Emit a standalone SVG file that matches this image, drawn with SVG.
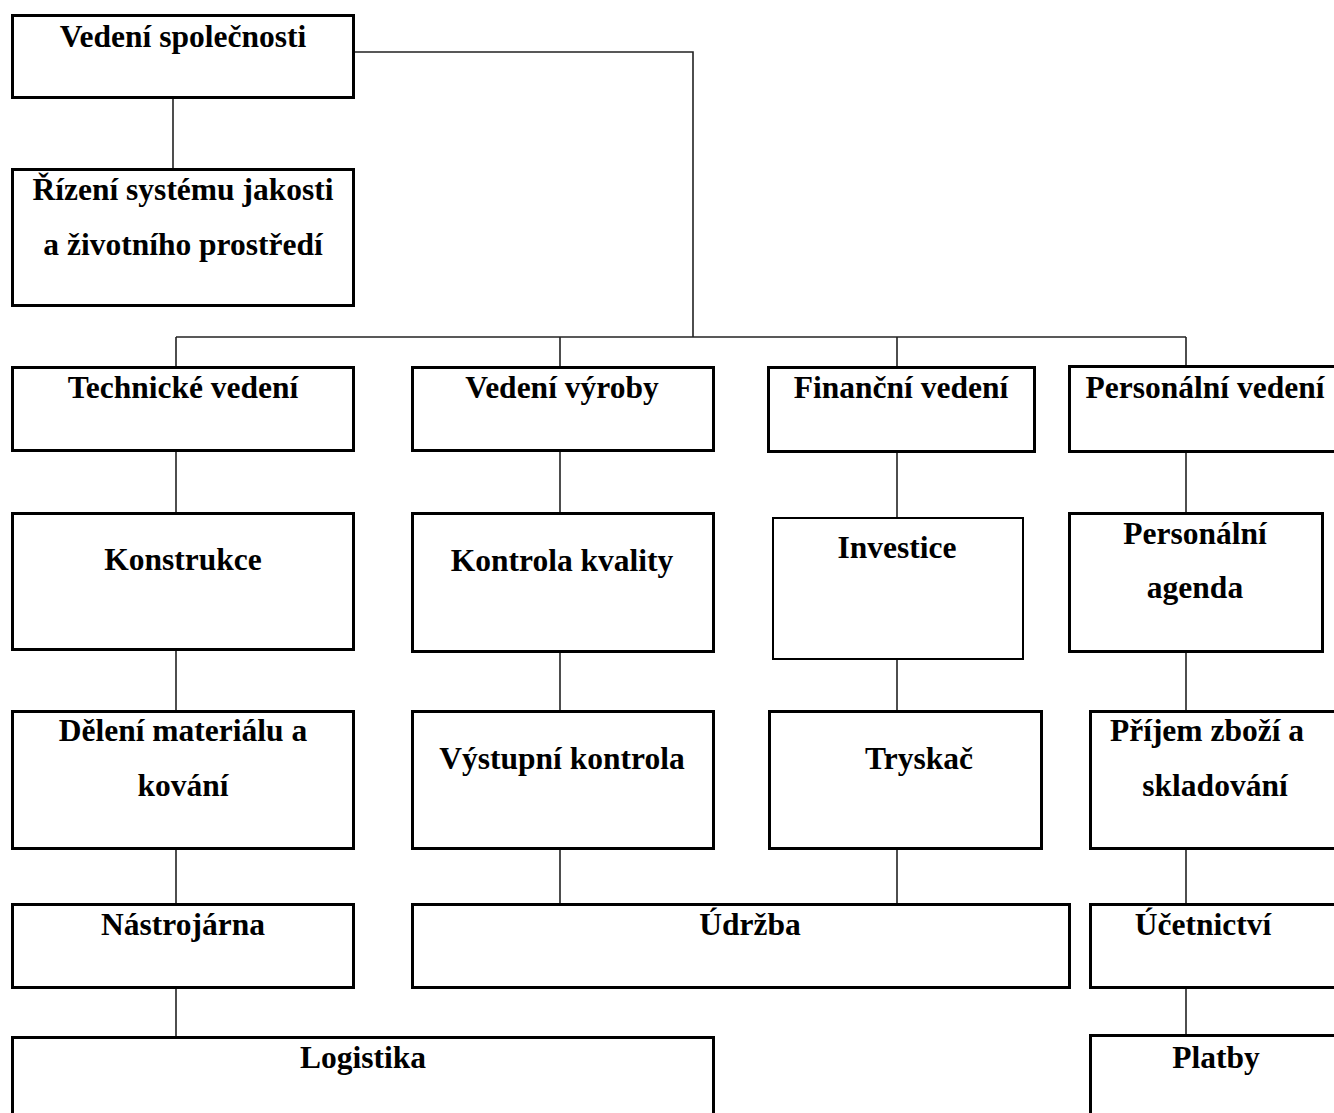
<svg xmlns="http://www.w3.org/2000/svg" width="1334" height="1113" viewBox="0 0 1334 1113">
<style>
.b{fill:#fff;stroke:#000;stroke-width:3}
.thin{stroke-width:2}
.c{fill:none;stroke:#222;stroke-width:1.6}
text{font-family:"Liberation Serif","Times New Roman",serif;font-weight:bold;font-size:31.5px;fill:#000;text-anchor:middle}
</style>
<rect width="1334" height="1113" fill="#fff"/>
<g id="connectors">
<path class="c" d="M173 98V168"/>
<path class="c" d="M354 52H693V337"/>
<path class="c" d="M176 337H1186"/>
<path class="c" d="M176 337V367M560 337V367M897 337V367M1186 337V366"/>
<path class="c" d="M176 451V512M176 650V710M176 849V903M176 988V1038"/>
<path class="c" d="M560 451V512M560 652V710M560 849V903"/>
<path class="c" d="M897 452V517M897 659V710M897 849V903"/>
<path class="c" d="M1186 452V512M1186 652V710M1186 849V903M1186 988V1036"/>
</g>
<g id="n1"><rect class="b" x="12.5" y="15.5" width="341" height="82"/><text x="183" y="47">Vedení společnosti</text></g>
<g id="n2"><rect class="b" x="12.5" y="169.5" width="341" height="136"/><text x="183" y="200">Řízení systému jakosti</text><text x="183" y="255">a životního prostředí</text></g>
<g id="n3"><rect class="b" x="12.5" y="367.5" width="341" height="83"/><text x="183" y="398">Technické vedení</text></g>
<g id="n4"><rect class="b" x="412.5" y="367.5" width="301" height="83"/><text x="562" y="398">Vedení výroby</text></g>
<g id="n5"><rect class="b" x="768.5" y="367.5" width="266" height="84"/><text x="901" y="398">Finanční vedení</text></g>
<g id="n6"><rect class="b" x="1069.5" y="366.5" width="280" height="85"/><text x="1205" y="398">Personální vedení</text></g>
<g id="n7"><rect class="b" x="12.5" y="513.5" width="341" height="136"/><text x="183" y="570">Konstrukce</text></g>
<g id="n8"><rect class="b" x="412.5" y="513.5" width="301" height="138"/><text x="562" y="571">Kontrola kvality</text></g>
<g id="n9"><rect class="b thin" x="773" y="518" width="250" height="141"/><text x="897" y="558">Investice</text></g>
<g id="n10"><rect class="b" x="1069.5" y="513.5" width="253" height="138"/><text x="1195" y="544">Personální</text><text x="1195" y="598">agenda</text></g>
<g id="n11"><rect class="b" x="12.5" y="711.5" width="341" height="137"/><text x="183" y="741">Dělení materiálu a</text><text x="183" y="796">kování</text></g>
<g id="n12"><rect class="b" x="412.5" y="711.5" width="301" height="137"/><text x="562" y="769">Výstupní kontrola</text></g>
<g id="n13"><rect class="b" x="769.5" y="711.5" width="272" height="137"/><text x="919" y="769">Tryskač</text></g>
<g id="n14"><rect class="b" x="1090.5" y="711.5" width="260" height="137"/><text x="1207" y="741">Příjem zboží a</text><text x="1215" y="796">skladování</text></g>
<g id="n15"><rect class="b" x="12.5" y="904.5" width="341" height="83"/><text x="183" y="935">Nástrojárna</text></g>
<g id="n16"><rect class="b" x="412.5" y="904.5" width="657" height="83"/><text x="750" y="935">Údržba</text></g>
<g id="n17"><rect class="b" x="1090.5" y="904.5" width="260" height="83"/><text x="1203" y="935">Účetnictví</text></g>
<g id="n18"><rect class="b" x="12.5" y="1037.5" width="701" height="100"/><text x="363" y="1068">Logistika</text></g>
<g id="n19"><rect class="b" x="1090.5" y="1035.5" width="260" height="100"/><text x="1216" y="1068">Platby</text></g>
</svg>
